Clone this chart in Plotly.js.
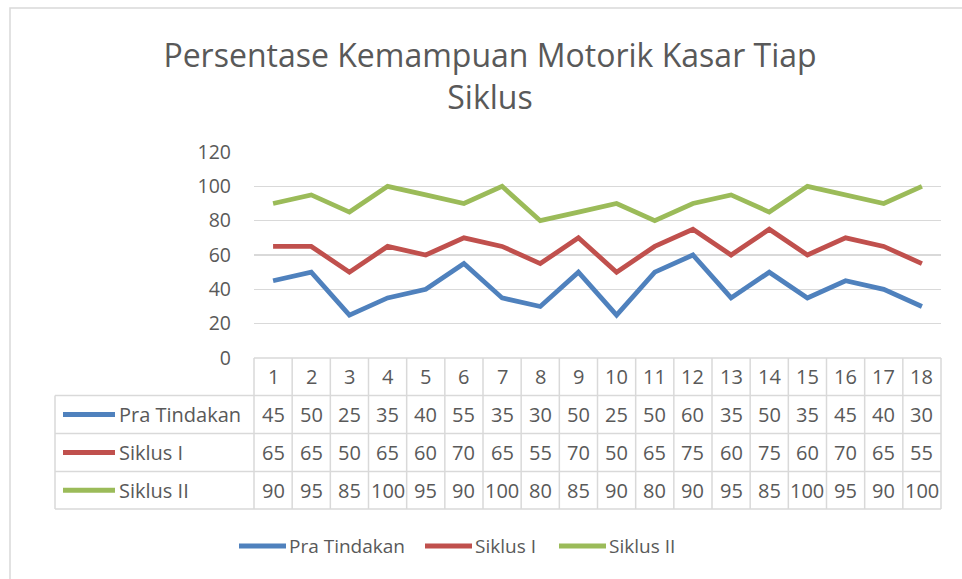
<!DOCTYPE html>
<html>
<head>
<meta charset="utf-8">
<script src="https://cdn.plot.ly/plotly-3.0.1.min.js"></script>
<style>html,body{margin:0;padding:0;background:#fff;}#chart{width:962px;height:579px;}</style>
</head>
<body>
<div id="chart"></div>
<script>
const categories = ['1','2','3','4','5','6','7','8','9','10','11','12','13','14','15','16','17','18'];
const praTindakan = [45,50,25,35,40,55,35,30,50,25,50,60,35,50,35,45,40,30];
const siklusI = [65,65,50,65,60,70,65,55,70,50,65,75,60,75,60,70,65,55];
const siklusII = [90,95,85,100,95,90,100,80,85,90,80,90,95,85,100,95,90,100];
const seriesNames = ['Pra Tindakan','Siklus I','Siklus II'];
const yTicks = [0,20,40,60,80,100,120];
const titleText = 'Persentase Kemampuan Motorik Kasar Tiap<br>Siklus';

const seriesData = [praTindakan, siklusI, siklusII];
const colors = ['#4f81bd','#c0504d','#9bbb59'];
const FONT = '"Open Sans", Lato, sans-serif';
const TXT = '#595959';
const GRID = '#d9d9d9';

// pixel geometry helpers
const L = 254, R = 941, T = 152, B = 358;
const px2x = p => (p - L) / (R - L);
const px2y = p => (B - p) / (B - T);

const traces = seriesData.map((vals, i) => ({
  type: 'scatter', mode: 'lines', name: seriesNames[i],
  x: categories, y: vals,
  line: {color: colors[i], width: 4.8},
  showlegend: false, hoverinfo: 'x+y+name'
}));

const shapes = [];
const annotations = [];

// chart border
shapes.push({type:'rect', xref:'paper', yref:'paper', x0:px2x(10), x1:px2x(1100), y0:px2y(8), y1:px2y(700),
  line:{color:GRID, width:1.5}, fillcolor:'rgba(0,0,0,0)', layer:'below'});

// table rows boundaries
const rowEdges = [358, 395.5, 433.5, 471.5, 509];
shapes.push({type:'line', xref:'paper', yref:'paper', x0:0, x1:1, y0:px2y(rowEdges[0]), y1:px2y(rowEdges[0]), line:{color:GRID, width:1.5}});
for (let r = 1; r < rowEdges.length; r++) {
  shapes.push({type:'line', xref:'paper', yref:'paper', x0:px2x(55), x1:1, y0:px2y(rowEdges[r]), y1:px2y(rowEdges[r]), line:{color:GRID, width:1.5}});
}
for (let c = 0; c <= categories.length; c++) {
  const xp = c / categories.length;
  shapes.push({type:'line', xref:'paper', yref:'paper', x0:xp, x1:xp, y0:px2y(rowEdges[0]), y1:px2y(rowEdges[4]), line:{color:GRID, width:1.5}});
}
shapes.push({type:'line', xref:'paper', yref:'paper', x0:px2x(55), x1:px2x(55), y0:px2y(rowEdges[1]), y1:px2y(rowEdges[4]), line:{color:GRID, width:1.5}});

const cellFont = {family: FONT, size: 20, color: TXT};
const legFont = {family: FONT, size: 19, color: TXT};
// header row (category index positions on the category axis)
categories.forEach((c, i) => {
  annotations.push({xref:'x', yref:'paper', x:i, y:px2y((rowEdges[0]+rowEdges[1])/2), text:c, showarrow:false, font:cellFont, xanchor:'center', yanchor:'middle'});
});
// data rows
seriesData.forEach((vals, s) => {
  const yc = px2y((rowEdges[s+1] + rowEdges[s+2]) / 2);
  vals.forEach((v, i) => {
    annotations.push({xref:'x', yref:'paper', x:i, y:yc, text:String(v), showarrow:false, font:cellFont, xanchor:'center', yanchor:'middle'});
  });
  shapes.push({type:'line', xref:'paper', yref:'paper', x0:px2x(63), x1:px2x(115), y0:yc, y1:yc, line:{color:colors[s], width:4.8}});
  annotations.push({xref:'paper', yref:'paper', x:px2x(117), y:yc, text:seriesNames[s], showarrow:false, font:cellFont, xanchor:'left', yanchor:'middle'});
});

// bottom legend
const legLineX = [238, 424, 558];
seriesNames.forEach((n, s) => {
  const yc = px2y(546);
  shapes.push({type:'line', xref:'paper', yref:'paper', x0:px2x(legLineX[s]+1), x1:px2x(legLineX[s]+48), y0:yc, y1:yc, line:{color:colors[s], width:4.8}});
  annotations.push({xref:'paper', yref:'paper', x:px2x(legLineX[s]+49), y:yc, text:n, showarrow:false, font:legFont, xanchor:'left', yanchor:'middle'});
});

const layout = {
  width: 962, height: 579, autosize: false,
  paper_bgcolor: '#fff', plot_bgcolor: '#fff',
  margin: {l: L, r: 962 - R, t: T, b: 579 - B, pad: 0},
  title: {text: titleText, x: 490/962, xref:'container', xanchor:'center', y: 1 - 67/579, yref:'container', yanchor:'middle',
    font: {family: FONT, size: 32, color: TXT}},
  xaxis: {type:'category', range:[-0.5, 17.5], showticklabels:false, showgrid:false, zeroline:false, showline:false, ticks:''},
  yaxis: {range:[0,120], tickvals:yTicks, ticktext:yTicks.map(String), gridcolor:GRID, gridwidth:1.3, zeroline:false, showline:false, ticks:'',
    tickfont:{family:FONT, size:19.5, color:TXT}, ticklabelstandoff: 22},
  shapes: shapes,
  annotations: annotations,
  showlegend: false
};

Plotly.newPlot('chart', traces, layout, {displayModeBar:false, staticPlot:true});
</script>
</body>
</html>
